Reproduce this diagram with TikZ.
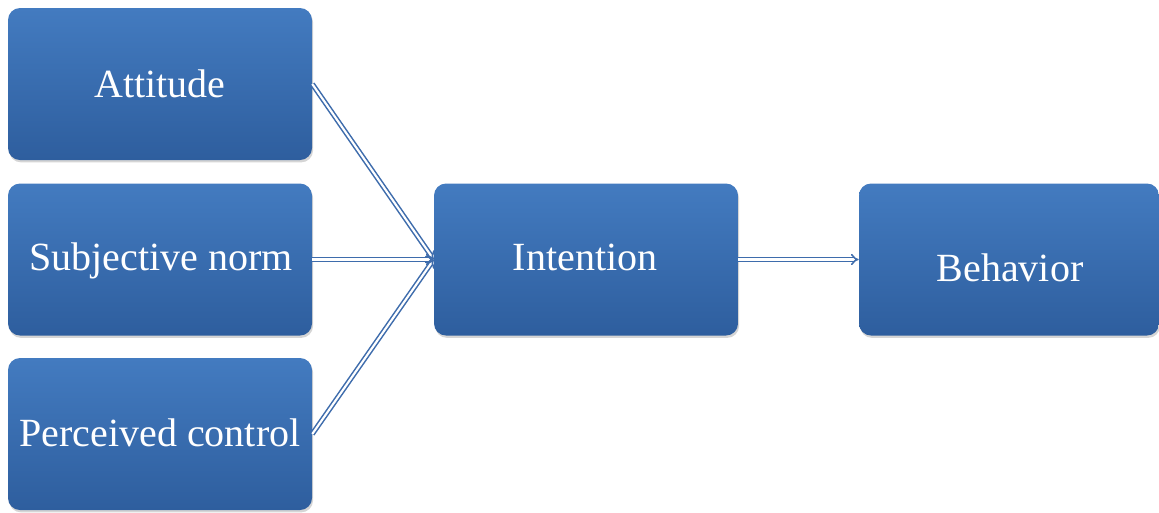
\documentclass[tikz,border=0pt]{standalone}
\usepackage{fontspec}
\setmainfont{Liberation Serif}
\usetikzlibrary{arrows.meta,shadows}
\definecolor{boxtop}{RGB}{67,123,192}
\definecolor{boxbot}{RGB}{46,94,158}
\definecolor{linkc}{RGB}{62,108,172}
\begin{document}
\begin{tikzpicture}[x=0.75pt,y=-0.75pt,
  box/.style={rounded corners=9pt, minimum width=228pt, minimum height=114pt,
    inner sep=0pt, top color=boxtop, bottom color=boxbot, draw=none,
    drop shadow={shadow xshift=0.8pt, shadow yshift=-1.8pt, opacity=0.3, fill=black!55}},
  lbl/.style={anchor=base, text=white, font=\fontsize{30pt}{36pt}\selectfont, inner sep=0pt},
  link/.style={draw=linkc, line width=1.15pt, double=white, double distance=1.6pt, -{Implies}}
]
\useasboundingbox (0,0) rectangle (1159,512);

% boxes
\node[box] (att) at (160,84) {};
\node[box] (sub) at (160,259.5) {};
\node[box] (per) at (160,434) {};
\node[box] (int) at (586,259.5) {};
\node[box, minimum width=225pt] (beh) at (1009,259.5) {};

% labels
\node[lbl] (attT) at (160,97) {Attitude};
\node[lbl] (subT) at (161,270) {Subjective norm};
\node[lbl] (perT) at (160,446) {Perceived control};
\node[lbl] (intT) at (585,270) {Intention};
\node[lbl] (behT) at (1010,281) {Behavior};

% connectors
\draw[link] (att.east) -- (int.west);
\draw[link] (sub.east) -- (int.west);
\draw[link] (per.east) -- (int.west);
\draw[link] (int.east) -- (beh.west);
\end{tikzpicture}
\end{document}
